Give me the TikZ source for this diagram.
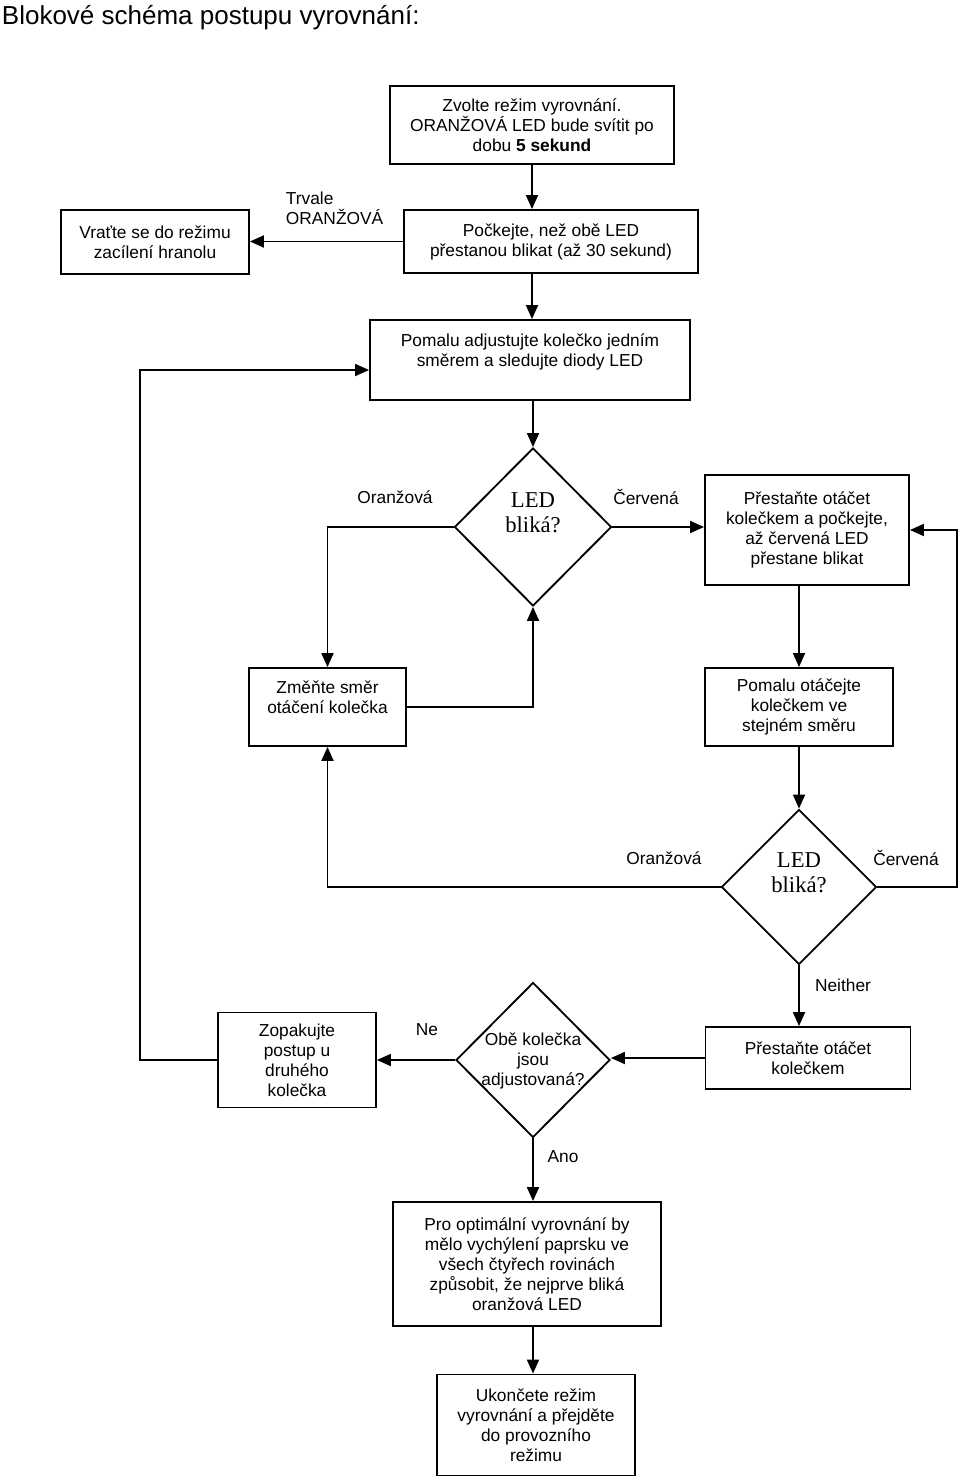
\documentclass[tikz,border=0pt]{standalone}
\usepackage{fontspec}
\setmainfont{Liberation Sans}
\newfontfamily\patkove{Liberation Serif}
\usetikzlibrary{shapes.geometric,arrows.meta}

\begin{document}
\begin{tikzpicture}[x=0.75pt, y=-0.75pt, >={Triangle[length=10.5pt,width=9pt]},
		line width=1.4pt,
		krok/.style={draw, rectangle, align=center, inner sep=2pt, font=\fontsize{13}{15}\selectfont},
		otazka/.style={draw, diamond, inner sep=0pt},
		popis/.style={align=center, inner sep=0pt, font=\fontsize{13}{15}\selectfont}]
			\useasboundingbox (0,0) rectangle (960,1480);

			% Nadpis
			\node[popis, anchor=west, font=\fontsize{19.5}{22}\selectfont] (nadpis) at (1,18) {Blokové schéma postupu vyrovnání:};

			% Kroky
			\node[krok, minimum width=213pt, minimum height=58.5pt] (zvolte) at (532,125) {Zvolte režim vyrovnání.\\ORANŽOVÁ LED bude svítit po\\dobu \textbf{5 sekund}};
			\node[krok, minimum width=220.5pt, minimum height=47.25pt] (pockejte) at (551,241.5) {Počkejte, než obě LED\\přestanou blikat (až 30 sekund)};
			\node[krok, minimum width=141pt, minimum height=48pt] (vratte) at (155,242) {Vraťte se do režimu\\zacílení hranolu};
			\node[krok, minimum width=240pt, minimum height=60pt] (adjust) at (530,360) {Pomalu adjustujte kolečko jedním\\směrem a sledujte diody LED\\\mbox{}};
			\node[krok, minimum width=153pt, minimum height=82.5pt] (prestan) at (807,530) {Přestaňte otáčet\\kolečkem a počkejte,\\až červená LED\\přestane blikat};
			\node[krok, minimum width=117.75pt, minimum height=58.5pt] (zmente) at (327.5,707) {Změňte směr\\otáčení kolečka\\\mbox{}};
			\node[krok, minimum width=141pt, minimum height=58.5pt] (otacej) at (799,707) {Pomalu otáčejte\\kolečkem ve\\stejném směru};
			\node[krok, minimum width=153.75pt, minimum height=46.5pt] (stop) at (808,1058) {Přestaňte otáčet\\kolečkem};
			\node[krok, minimum width=118.5pt, minimum height=71.25pt] (zopak) at (297,1060) {Zopakujte\\postup u\\druhého\\kolečka};
			\node[krok, minimum width=201pt, minimum height=93pt] (pro) at (527,1264) {Pro optimální vyrovnání by\\mělo vychýlení paprsku ve\\všech čtyřech rovinách\\způsobit, že nejprve bliká\\oranžová LED};
			\node[krok, minimum width=148.5pt, minimum height=75.75pt] (ukon) at (536,1425) {Ukončete režim\\vyrovnání a přejděte\\do provozního\\režimu};

			% Rozhodování
			\node[otazka, minimum width=117.75pt, minimum height=118.5pt] (blika1) at (533,527) {};
			\node[popis, font=\patkove\fontsize{17}{19}\selectfont] (blika1txt) at (533,513) {LED\\bliká?};
			\node[otazka, minimum width=116.25pt, minimum height=116.25pt] (blika2) at (799,887) {};
			\node[popis, font=\patkove\fontsize{17}{19}\selectfont] (blika2txt) at (799,873) {LED\\bliká?};
			\node[otazka, minimum width=115.5pt, minimum height=116.25pt] (kolecka) at (533,1060) {};
			\node[popis] (koleckatxt) at (533,1061) {Obě kolečka\\jsou\\adjustovaná?};

			% Popisky
			\node[popis, align=left, anchor=west] (trvale) at (285,208) {Trvale\\ORANŽOVÁ};
			\node[popis] (oranz1) at (395,497) {Oranžová};
			\node[popis] (cerv1) at (646,497) {Červená};
			\node[popis] (oranz2) at (664,858) {Oranžová};
			\node[popis] (cerv2) at (906,858) {Červená};
			\node[popis] (neither) at (843,985) {Neither};
			\node[popis] (ne) at (427,1030) {Ne};
			\node[popis] (ano) at (563,1157) {Ano};

			% Spojnice
			\coordinate (vpravo) at (957,887);
			\coordinate (vlevo) at (140,370);
			\draw[->] (zvolte.south) -- (zvolte.south |- pockejte.north);
			\draw[->] (pockejte.west) -- (pockejte.west -| vratte.east);
			\draw[->] (zvolte.south |- pockejte.south) -- (zvolte.south |- adjust.north);
			\draw[->] (blika1.north |- adjust.south) -- (blika1.north);
			\draw[->] (blika1.west) -| (zmente.north);
			\draw[->] (zmente.east) -| (blika1.south);
			\draw[->] (blika1.east) -- (blika1.east -| prestan.west);
			\draw[->] (otacej.north |- prestan.south) -- (otacej.north);
			\draw[->] (otacej.south) -- (blika2.north);
			\draw[->] (blika2.west) -| (zmente.south);
			\draw[->] (blika2.east) -- (vpravo) |- (prestan.east);
			\draw[->] (blika2.south) -- (blika2.south |- stop.north);
			\draw[->] (stop.west) -- (stop.west -| kolecka.east);
			\draw[->] (kolecka.west) -- (kolecka.west -| zopak.east);
			\draw[->] (zopak.west) -| (vlevo) -- (vlevo -| adjust.west);
			\draw[->] (kolecka.south) -- (kolecka.south |- pro.north);
			\draw[->] (kolecka.south |- pro.south) -- (kolecka.south |- ukon.north);
		\end{tikzpicture}
\end{document}
